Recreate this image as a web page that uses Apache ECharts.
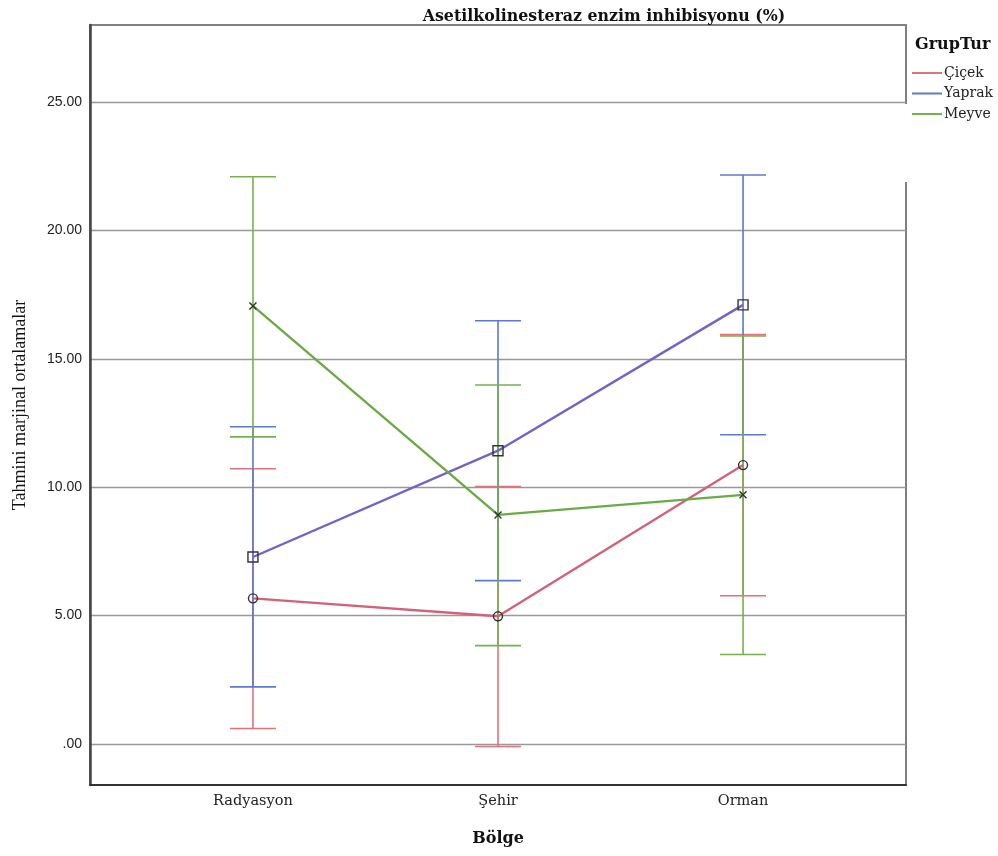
<!DOCTYPE html>
<html>
<head>
<meta charset="utf-8">
<script src="https://cdn.jsdelivr.net/npm/echarts@6/dist/echarts.min.js"></script>
<style>
  html, body { margin: 0; padding: 0; background: #fff; }
  #chart { width: 998px; height: 856px; }
</style>
</head>
<body>
<div id="chart"></div>
<script>
// Regions on the horizontal axis
const categories = ['Radyasyon', 'Şehir', 'Orman'];
const groups = ['Çiçek', 'Yaprak', 'Meyve'];

// Estimated marginal means with 95% CI bounds, one value per region
const cicekMean = [5.67, 4.97, 10.86];
const cicekLow = [0.60, -0.10, 5.77];
const cicekHigh = [10.72, 10.02, 15.94];

const yaprakMean = [7.28, 11.42, 17.10];
const yaprakLow = [2.22, 6.36, 12.04];
const yaprakHigh = [12.35, 16.48, 22.16];

const meyveMean = [17.06, 8.92, 9.70];
const meyveLow = [11.96, 3.83, 3.48];
const meyveHigh = [22.09, 13.98, 15.89];

// Value axis ticks and their labels
const yTicks = [0, 5, 10, 15, 20, 25];
const yTickLabels = ['.00', '5.00', '10.00', '15.00', '20.00', '25.00'];

const barColors = ['#e2727a', '#5b78d2', '#77b04f'];
const lineColors = ['#d2627c', '#7463c6', '#6aab45'];
const markerSymbols = ['circle', 'rect', 'path://M0,0L10,10M10,0L0,10'];
const markerSizes = [9, 10, 7];

const means = [cicekMean, yaprakMean, meyveMean];
const lows = [cicekLow, yaprakLow, meyveLow];
const highs = [cicekHigh, yaprakHigh, meyveHigh];

const serif = '"Liberation Serif", "DejaVu Serif", serif';
const wideSerif = '"DejaVu Serif", serif';

function errorBarSeries(gi) {
  const data = categories.map((c, i) => [i, lows[gi][i], highs[gi][i]]);
  return {
    type: 'custom',
    name: groups[gi],
    z: 2,
    itemStyle: { color: barColors[gi] },
    data: data,
    renderItem: function (params, api) {
      const x = api.value(0);
      const lo = api.coord([x, api.value(1)]);
      const hi = api.coord([x, api.value(2)]);
      const half = 23;
      const style = { stroke: barColors[gi], lineWidth: 1.6, fill: null };
      return {
        type: 'group',
        children: [
          { type: 'line', shape: { x1: hi[0], y1: hi[1], x2: lo[0], y2: lo[1] }, style: style },
          { type: 'line', shape: { x1: hi[0] - half, y1: hi[1], x2: hi[0] + half, y2: hi[1] }, style: style },
          { type: 'line', shape: { x1: lo[0] - half, y1: lo[1], x2: lo[0] + half, y2: lo[1] }, style: style }
        ]
      };
    }
  };
}

function meanLineSeries(gi) {
  return {
    type: 'line',
    name: groups[gi],
    z: 3,
    data: categories.map((c, i) => [i, means[gi][i]]),
    symbol: markerSymbols[gi],
    symbolSize: markerSizes[gi],
    showSymbol: true,
    lineStyle: { color: lineColors[gi], width: 2.4 },
    itemStyle: { color: 'rgba(0,0,0,0)', borderColor: '#333', borderWidth: 1.4 },
    emphasis: { disabled: true },
    animation: false
  };
}

const series = [];
for (let g = 0; g < groups.length; g++) series.push(errorBarSeries(g));
for (let g = 0; g < groups.length; g++) series.push(meanLineSeries(g));

const chart = echarts.init(document.getElementById('chart'), null, { renderer: 'canvas' });
chart.setOption({
  animation: false,
  backgroundColor: '#fff',
  title: {
    text: 'Asetilkolinesteraz enzim inhibisyonu (%)',
    left: 599,
    top: 4,
    textAlign: 'center',
    textStyle: { fontFamily: wideSerif, fontWeight: 'bold', fontSize: 15.8, color: '#111' }
  },
  legend: {
    orient: 'vertical',
    left: 912,
    top: 65,
    padding: 0,
    itemWidth: 30,
    itemHeight: 2,
    itemGap: 4.5,
    selectedMode: false,
    textStyle: { fontFamily: wideSerif, fontSize: 14, lineHeight: 16, color: '#222', padding: [0, 0, 0, -3] },
    data: groups.map((g, i) => ({ name: g, icon: 'rect', itemStyle: { color: barColors[i] } }))
  },
  graphic: [
    {
      type: 'text',
      left: 915,
      top: 37,
      style: { text: 'GrupTur', fontFamily: wideSerif, fontWeight: 'bold', fontSize: 16, fill: '#111' }
    },
    {
      type: 'rect',
      shape: { x: 903, y: 104, width: 8, height: 78 },
      style: { fill: '#fff' },
      z: 100
    }
  ],
  grid: {
    left: 90,
    right: 92,
    top: 25,
    bottom: 71,
    show: true,
    borderColor: '#808080',
    borderWidth: 2,
    backgroundColor: '#fff'
  },
  xAxis: {
    type: 'value',
    min: -0.665,
    max: 2.665,
    name: 'Bölge',
    nameLocation: 'middle',
    nameGap: 46,
    nameTextStyle: { fontFamily: wideSerif, fontWeight: 'bold', fontSize: 16, color: '#111' },
    axisLine: { show: true, onZero: false, lineStyle: { color: '#333', width: 2 } },
    axisTick: { show: false, customValues: [0, 1, 2] },
    splitLine: { show: false },
    axisLabel: {
      customValues: [0, 1, 2],
      formatter: v => categories[Math.round(v)],
      fontFamily: wideSerif,
      fontSize: 14.5,
      color: '#222',
      margin: 9
    }
  },
  yAxis: {
    type: 'value',
    min: -1.6,
    max: 28,
    name: 'Tahmini marjinal ortalamalar',
    nameLocation: 'middle',
    nameGap: 61,
    nameTextStyle: { fontFamily: serif, fontSize: 18, color: '#111' },
    axisLine: { show: true, onZero: false, lineStyle: { color: '#444', width: 2.5 } },
    axisTick: { show: false, customValues: yTicks },
    splitLine: { show: true, lineStyle: { color: '#999', width: 1.4 } },
    axisLabel: {
      customValues: yTicks,
      formatter: v => yTickLabels[yTicks.indexOf(Math.round(v))],
      fontFamily: '"Liberation Sans", Arial, sans-serif',
      fontSize: 14,
      color: '#222',
      margin: 8
    }
  },
  series: series
});
</script>
</body>
</html>
